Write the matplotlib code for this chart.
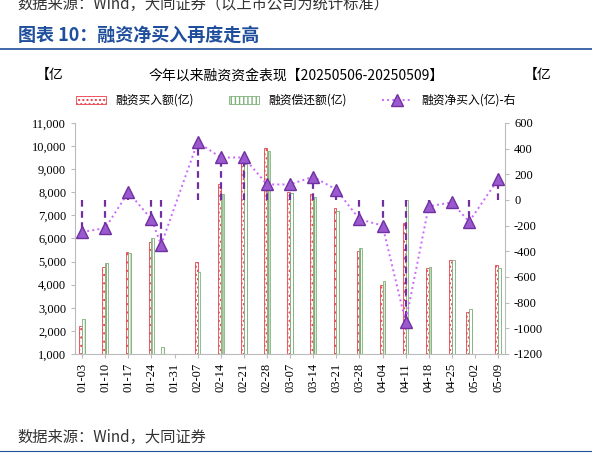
import matplotlib
matplotlib.use("Agg")
import matplotlib.pyplot as plt
import numpy as np

plt.rcParams['font.family'] = ['Noto Sans CJK SC', 'DejaVu Sans']

tick_labels = ["01-03","01-10","01-17","01-24","01-31","02-07","02-14","02-21","02-28","03-07",
               "03-14","03-21","03-28","04-04","04-11","04-18","04-25","05-02","05-09"]
pos = [0,1,2,3,3.42,5,6,7,8,9,10,11,12,13,14,15,16,16.75,18]
buy = [2200,4750,5400,5850,np.nan,5000,8350,9300,9900,8000,7900,7300,5450,4000,6650,4700,5050,2800,4850]
repay = [2500,4950,5350,6000,1300,4550,7900,9200,9800,7950,7800,7200,5600,4150,7650,4750,5050,2950,4700]
net = [-250,-220,60,-150,-350,450,330,330,120,120,180,80,-150,-200,-950,-50,-20,-170,160]

fig = plt.figure(figsize=(5.92,4.67), dpi=100)
ax = fig.add_axes([0.127,0.242,0.726,0.495])
x = np.array(pos)
w = 0.12
ax.bar(x-w/2, buy, w, bottom=0, color='white', edgecolor='#e8404a', hatch='....', linewidth=0.6, label='融资买入额(亿)')
ax.bar(x+w/2, repay, w, bottom=0, color='white', edgecolor='#7fb07a', hatch='||||', linewidth=0.6, label='融资偿还额(亿)')
ax.set_ylim(1000,11000)
ax.set_yticks(range(1000,11001,1000))
ax.set_yticklabels([f"{v:,}" for v in range(1000,11001,1000)], fontsize=9, family='Liberation Serif')
ax.set_xlim(-0.3,18.3)
ax.set_xticks(range(19))
ax.set_xticklabels(tick_labels, rotation=90, fontsize=9, family='Liberation Serif')
for s in ['top','right']:
    ax.spines[s].set_visible(False)
for s in ['left','bottom']:
    ax.spines[s].set_color('#bbbbbb')
ax.tick_params(length=3, color='#bbbbbb')

ax2 = ax.twinx()
ax2.set_ylim(-1200,600)
ax2.set_yticks(range(-1200,601,200))
ax2.set_yticklabels([str(v) for v in range(-1200,601,200)], fontsize=9, family='Liberation Serif')
ax2.vlines(x, 0, net, colors='#7030a0', linestyles=(0,(3,2)), linewidth=1.6)
ax2.plot(x, net, color='#cc66ff', linestyle=':', linewidth=1.4, marker='^', markersize=8,
         markerfacecolor='#9b59d0', markeredgecolor='#7030a0', label='融资净买入(亿)-右')
for s in ['top','left','bottom']:
    ax2.spines[s].set_visible(False)
ax2.spines['right'].set_color('#bbbbbb')
ax2.tick_params(length=3, color='#bbbbbb')

h1,l1 = ax.get_legend_handles_labels()
h2,l2 = ax2.get_legend_handles_labels()
fig.legend(h1+h2, l1+l2, loc='center', bbox_to_anchor=(0.5,0.785), ncol=3, frameon=False,
           fontsize=8.5, handlelength=2.5, columnspacing=3)

fig.text(0.5,0.83,"今年以来融资资金表现【20250506-20250509】", ha='center', fontsize=10)
fig.text(0.06,0.83,"【亿", fontsize=10)
fig.text(0.885,0.83,"【亿", fontsize=10)
fig.text(0.03,0.99,"数据来源：Wind，大同证券（以上市公司为统计标准）", fontsize=11, style='italic', color='#333333', va='center')
fig.text(0.03,0.925,"图表 10：融资净买入再度走高", fontsize=13, weight='bold', color='#1f4e9c', va='center')
fig.add_artist(plt.Line2D([0.0,1.0],[0.895,0.895], color='#1f4e9c', linewidth=1.2))
fig.add_artist(plt.Line2D([0.0,1.0],[0.035,0.035], color='#1f4e9c', linewidth=0.8))
fig.text(0.03,0.045,"数据来源：Wind，大同证券", fontsize=11, style='italic', color='#333333', va='bottom')
fig.savefig("out.png", dpi=100)
